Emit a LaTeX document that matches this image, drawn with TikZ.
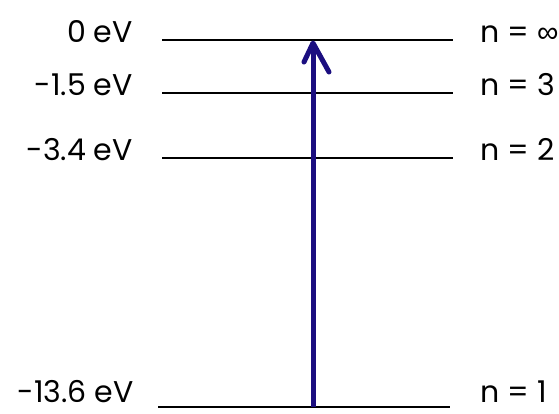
\documentclass[tikz,border=0pt]{standalone}
\usepackage{fontspec}
\setmainfont{Poppins}
\newfontfamily\symfont{Liberation Sans}
\definecolor{photon}{RGB}{27,14,128}

\begin{document}
\begin{tikzpicture}[x=1pt,y=-1pt,
  level/.style={draw=black,line width=1.7pt},
  elbl/.style={font=\fontsize{30}{30}\selectfont,inner sep=0pt,anchor=base east},
  nlbl/.style={font=\fontsize{30}{30}\selectfont,inner sep=0pt,anchor=base west}]
\useasboundingbox (0,0) rectangle (559,413);
% energy levels
\coordinate (inf-l) at (162,40);  \coordinate (inf-r) at (453,40);
\coordinate (n3-l) at (162,93);   \coordinate (n3-r) at (453,93);
\coordinate (n2-l) at (162,158);  \coordinate (n2-r) at (453,158);
\coordinate (n1-l) at (158,407);  \coordinate (n1-r) at (450,407);
\draw[level] (inf-l) -- (inf-r);
\draw[level] (n3-l) -- (n3-r);
\draw[level] (n2-l) -- (n2-r);
\draw[level] (n1-l) -- (n1-r);
% labels
\node[elbl] (e-inf) at (133,42) {0 eV};
\node[elbl] (e-3) at (133,95) {-1.5 eV};
\node[elbl] (e-2) at (133,160) {-3.4 eV};
\node[elbl] (e-1) at (134,402) {-13.6 eV};
\node[nlbl] (lbl-inf) at (480,42) {n = {\symfont ∞}};
\node[nlbl] (lbl-3) at (480,95) {n = 3};
\node[nlbl] (lbl-2) at (480,160) {n = 2};
\node[nlbl] (lbl-1) at (480,402) {n = 1};
% absorption
\coordinate (up-from) at (313,407);
\coordinate (up-to) at (313,43);
\coordinate (head-l) at (304,62);
\coordinate (head-r) at (329,72);
\draw[photon,line width=5pt] (up-from) -- (up-to);
\draw[photon,line width=5pt,line cap=round,line join=round] (head-l) -- (up-to) -- (head-r);
\end{tikzpicture}
\end{document}
